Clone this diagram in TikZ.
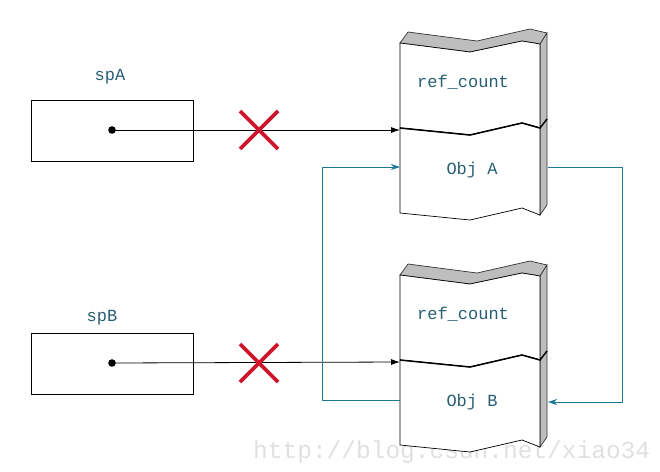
\documentclass[tikz,border=0pt]{standalone}
\usepackage{fontspec}
\newfontfamily\monofont{Liberation Mono}
\usetikzlibrary{arrows.meta,calc}
\definecolor{lbl}{RGB}{40,95,115}
\definecolor{teal2}{RGB}{30,120,150}
\definecolor{sidegray}{RGB}{190,190,190}
\definecolor{xred}{RGB}{205,20,45}
\begin{document}
\begin{tikzpicture}[x=1pt,y=-1pt,
  lab/.style={font=\monofont\fontsize{17}{17}\selectfont, text=lbl, inner sep=0pt},
  ptrbox/.style={draw=black, line width=0.8pt, minimum width=162pt, minimum height=61pt, inner sep=0pt},
  ptrline/.style={draw=black, line width=0.8pt, -{Latex[length=9pt,width=6pt]}},
  cyc/.style={draw=teal2, line width=0.9pt},
  cycarrow/.style={cyc, -{Stealth[length=9pt,width=6pt]}},
  face/.style={fill=white, draw=black, line width=0.7pt},
  gface/.style={fill=sidegray, draw=black!80, line width=0.7pt},
  xmark/.style={draw=xred, line width=3.6pt}
]
\useasboundingbox (0,0) rectangle (660,471);
% watermark
\node[font=\monofont\fontsize{24.5}{24.5}\selectfont, text=black!12, anchor=base west, inner sep=0pt] (wm) at (253,458) {http://blog.csdn.net/xiao34};
% object blocks
\foreach \dy in {0,232} {
  \begin{scope}[yshift=-\dy pt]
  % top face
  \path[gface] (400,43) -- (470,52) -- (522,41) -- (540,44) -- (547,33) -- (530,29) -- (477,41) -- (408,32) -- cycle;
  % side face
  \path[gface] (540,44) -- (547,33) -- (547,205) -- (540,215) -- cycle;
  % upper front face
  \path[face] (400,43) -- (470,52) -- (522,41) -- (540,44) -- (540,128) -- (522,123) -- (470,135) -- (400,128) -- cycle;
  % lower front face
  \path[face] (400,128) -- (470,135) -- (522,123) -- (540,128) -- (540,215) -- (522,208) -- (470,220) -- (400,213) -- cycle;
  % separator
  \draw[line width=1.5pt] (400,128) -- (470,135) -- (522,123) -- (540,128) -- (547,119);
  \end{scope}
}
% labels
\node[lab] (refA) at (463,82) {ref\_count};
\node[lab] (objA) at (472,170) {Obj A};
\node[lab] (refB) at (463,314) {ref\_count};
\node[lab] (objB) at (472,402) {Obj B};
\node[lab] (spAl) at (110,77) {spA};
\node[lab] (spBl) at (102,318) {spB};
% pointer boxes
\node[ptrbox] (spA) at (112,131) {};
\node[ptrbox] (spB) at (112,363.5) {};
\coordinate (dotA) at (112,130);
\coordinate (dotB) at (112,363);
\coordinate (inA) at (400,130);
\coordinate (inB) at (400,362);
\fill (dotA) circle (3.8pt);
\fill (dotB) circle (3.8pt);
\draw[ptrline] (dotA) -- (inA);
\draw[ptrline] (dotB) -- (inB);
% red crosses
\coordinate (xA) at (259,130);
\coordinate (xB) at (259,363);
\draw[xmark] ($(xA)+(-19,-19)$) -- ($(xA)+(19,19)$);
\draw[xmark] ($(xA)+(19,-19)$) -- ($(xA)+(-19,19)$);
\draw[xmark] ($(xB)+(-19,-19)$) -- ($(xB)+(19,19)$);
\draw[xmark] ($(xB)+(19,-19)$) -- ($(xB)+(-19,19)$);
% cyclic references
\coordinate (bL) at (400,400);
\coordinate (aLin) at (400,167);
\coordinate (aR) at (548,167);
\coordinate (bRin) at (548,402);
\draw[cycarrow] (bL) -- (322,400) -- (322,167) -- (aLin);
\draw[cycarrow] (aR) -- (622,167) -- (622,402) -- (bRin);
\end{tikzpicture}
\end{document}
